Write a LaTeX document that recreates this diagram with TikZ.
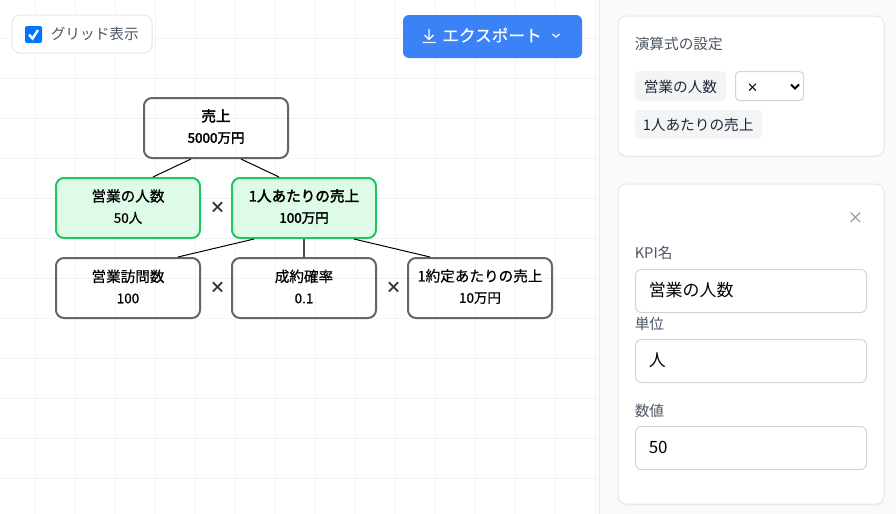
\documentclass[tikz,border=0pt]{standalone}
\usepackage{fontspec}
\setmainfont{Noto Sans CJK JP}
\newfontfamily\mediumfont[FakeBold=0.7]{Noto Sans CJK JP}
\newfontfamily\heavyfont[FakeBold=2.4]{Noto Sans CJK JP}
\newcommand{\kpimed}[2]{\parbox{108pt}{\centering\mediumfont\fontsize{10.95}{16}\selectfont #1\\\fontsize{10.1}{16}\selectfont #2\par\vspace{2.2pt}}}
\newcommand{\kpiheavy}[2]{\parbox{108pt}{\centering\heavyfont\fontsize{10.95}{16}\selectfont #1\\\fontsize{10.1}{16}\selectfont #2\par\vspace{2.2pt}}}
\definecolor{gridc}{HTML}{F3F3F4}
\definecolor{panelbg}{HTML}{F9FAFB}
\definecolor{cardb}{HTML}{E5E7EB}
\definecolor{labelc}{HTML}{4B5563}
\definecolor{inputb}{HTML}{D1D5DB}
\definecolor{chipc}{HTML}{F3F4F6}
\definecolor{nodeb}{HTML}{666666}
\definecolor{greenb}{HTML}{22C55E}
\definecolor{greenf}{HTML}{D8FBE3}
\definecolor{btn}{HTML}{3B82F6}
\definecolor{checkc}{HTML}{0075FF}
\definecolor{darkt}{HTML}{1F2937}
\tikzset{
  kpi/.style={draw=nodeb,line width=1.5pt,rounded corners=6pt,minimum width=108pt,minimum height=45pt,inner sep=0pt,text=black},
  kpigreen/.style={kpi,draw=greenb,fill=greenf,fill opacity=0.85,text opacity=1},
  link/.style={draw=black,line width=0.75pt},
  stem/.style={draw=black!70,line width=1.5pt},
  opmark/.style={font=\fontsize{12}{12}\selectfont\bfseries,text=black!80,inner sep=0pt},
  card/.style={draw=cardb,fill=white,line width=0.75pt,rounded corners=6pt},
  cardshadow/.style={fill=cardb!60,rounded corners=6pt},
  field/.style={draw=inputb,fill=white,line width=0.75pt,rounded corners=4.5pt},
  chip/.style={fill=chipc,rounded corners=3pt},
  lab/.style={anchor=west,inner sep=0pt,text=labelc,font=\fontsize{11}{11}\selectfont},
  chiptext/.style={anchor=west,inner sep=0pt,text=darkt,font=\fontsize{11}{11}\selectfont},
  inp/.style={anchor=west,inner sep=0pt,text=black,font=\fontsize{12.7}{12.7}\selectfont},
}
\begin{document}
\begin{tikzpicture}[x=0.75pt,y=-0.75pt]
\useasboundingbox (0,0) rectangle (896,514);
\fill[white] (0,0) rectangle (896,514);
% grid
\foreach \gx in {35.5,75.5,...,595.5} \draw[gridc,line width=0.75pt] (\gx,0) -- (\gx,514);
\foreach \gy in {38.5,78.5,...,478.5} \draw[gridc,line width=0.75pt] (0,\gy) -- (598,\gy);
% panel
\fill[panelbg] (599.5,0) rectangle (896,514);
\draw[cardb,line width=0.75pt] (599.5,0) -- (599.5,514);
% checkbox card
\draw[card] (12,15) rectangle (152,53);
\fill[checkc,rounded corners=1.5pt] (25,26) rectangle (42,43);
\draw[white,line width=1.8pt] (29,34.5) -- (32.5,38.5) -- (38,30);
\node[lab] (gridlabel) at (50.5,33.5) {グリッド表示};
% export button
\fill[btn,rounded corners=4.5pt] (403,15) rectangle (582,58);
\draw[white,line width=0.9pt] (429,29) -- (429,39) (424.5,35) -- (429,39.5) -- (433.5,35) (422.5,42.5) -- (435.5,42.5);
\node[anchor=center,inner sep=0pt,text=white,font=\mediumfont\fontsize{12.5}{12.5}\selectfont] (export) at (492,35) {エクスポート};
\draw[white,line width=0.9pt] (552.5,34) -- (556,37) -- (559.5,34);
% tree
\node[kpi] (root) at (216,128) {\kpiheavy{売上}{5000万円}};
\node[kpigreen] (sales) at (128,208) {\kpimed{営業の人数}{50人}};
\node[kpigreen] (per) at (304,208) {\kpiheavy{1人あたりの売上}{100万円}};
\node[kpi] (visits) at (128,288) {\kpimed{営業訪問数}{100}};
\node[kpi] (rate) at (304,288) {\kpimed{成約確率}{0.1}};
\node[kpi] (deal) at (480,288) {\kpimed{1約定あたりの売上}{10万円}};
\draw[link] ([xshift=-18.75pt]root.south) -- ([xshift=18.75pt]sales.north);
\draw[link] ([xshift=18.75pt]root.south) -- ([xshift=-18.75pt]per.north);
\draw[link] ([xshift=-37.5pt]per.south) -- ([xshift=37.5pt]visits.north);
\draw[stem] (per.south) -- (rate.north);
\draw[link] ([xshift=37.5pt]per.south) -- ([xshift=-37.5pt]deal.north);
\node[opmark] (op1) at (217.5,207.5) {×};
\node[opmark] (op2) at (217.5,287.5) {×};
\node[opmark] (op3) at (393.5,287.5) {×};
% formula card
\fill[cardshadow] (618,17) rectangle (884,157.5);
\draw[card] (618,16) rectangle (884,156);
\node[lab] (formtitle) at (634.5,43.5) {演算式の設定};
\fill[chip] (635,71) rectangle (726,101);
\node[chiptext] (chipa) at (643.5,86.5) {営業の人数};
\draw[field,rounded corners=3pt] (735.5,71.5) rectangle (803.5,100.5);
\node[inner sep=0pt,text=black,font=\mediumfont\fontsize{8.5}{8.5}\selectfont] (selop) at (752.5,87.5) {×};
\draw[black,line width=1.4pt] (791,84.5) -- (795,88.5) -- (799,84.5);
\fill[chip] (635,110) rectangle (762,139);
\node[chiptext] (chipb) at (642.5,124.5) {1人あたりの売上};
% edit card
\fill[cardshadow] (618,185) rectangle (884,505.5);
\draw[card] (618,184) rectangle (884,504);
\draw[black!40,line width=0.8pt] (850.5,212.5) -- (860,222) (860,212.5) -- (850.5,222);
\node[lab] (l1) at (634.5,253) {KPI名};
\draw[field] (635.5,269.5) rectangle (866.5,312.5);
\node[inp] (v1) at (648.5,290) {営業の人数};
\node[lab] (l2) at (634.5,323.5) {単位};
\draw[field] (635.5,339.5) rectangle (866.5,382.5);
\node[inp] (v2) at (648.5,360.5) {人};
\node[lab] (l3) at (634.5,410.5) {数値};
\draw[field] (635.5,426.5) rectangle (866.5,469.5);
\node[inp] (v3) at (648.5,447.5) {50};
\end{tikzpicture}
\end{document}
